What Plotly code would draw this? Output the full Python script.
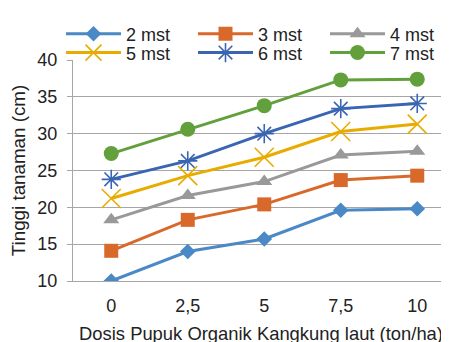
import plotly.graph_objects as go

categories = ["0", "2,5", "5", "7,5", "10"]
s2 = [10.0, 14.0, 15.7, 19.6, 19.8]
s3 = [14.1, 18.3, 20.4, 23.7, 24.3]
s4 = [18.3, 21.6, 23.5, 27.1, 27.6]
s5 = [21.2, 24.3, 26.8, 30.3, 31.3]
s6 = [23.8, 26.3, 30.0, 33.4, 34.1]
s7 = [27.3, 30.6, 33.8, 37.3, 37.4]
names = ["2 mst", "3 mst", "4 mst", "5 mst", "6 mst", "7 mst"]
y_ticks = [10, 15, 20, 25, 30, 35, 40]

series = [s2, s3, s4, s5, s6, s7]
colors = ["#4A89C5", "#D9692B", "#999999", "#E8AC00", "#3A65B2", "#62A03C"]
symbols = ["diamond", "square", "triangle-up", "x-thin-open", "asterisk-open", "circle"]
sizes = [12, 14, 14, 19, 16, 15]
legend_ids = ["legend", "legend", "legend", "legend2", "legend2", "legend2"]

fig = go.Figure()
for name, vals, c, sym, sz, lg in zip(names, series, colors, symbols, sizes, legend_ids):
    open_sym = sym.endswith("open")
    fig.add_trace(go.Scatter(
        x=list(range(len(categories))), y=vals, name=name, mode="lines+markers",
        legend=lg,
        line=dict(color=c, width=3),
        marker=dict(symbol=sym, size=sz, color=c,
                    line=dict(color=c, width=1.6 if open_sym else 0)),
    ))

leg_common = dict(orientation="h", x=-0.0266, xanchor="left", yanchor="top",
                  entrywidth=62, itemwidth=55, font=dict(size=18),
                  tracegroupgap=0, bgcolor="rgba(0,0,0,0)")

fig.update_layout(
    width=449, height=342,
    margin=dict(l=65, r=8, t=47, b=69),
    paper_bgcolor="white", plot_bgcolor="white",
    font=dict(family="Arial", size=18, color="#222222"),
    showlegend=True,
    legend=dict(y=1.2013, **leg_common),
    legend2=dict(y=1.116, **leg_common),
    xaxis=dict(range=[-0.5, 4.415], tickvals=list(range(len(categories))),
               ticktext=categories, showgrid=False, showline=True,
               linecolor="#A6A6A6", linewidth=1, ticks="", zeroline=False,
               ticklabelstandoff=8, tickfont=dict(size=18),
               title=dict(text="Dosis Pupuk Organik Kangkung laut (ton/ha)", standoff=12,
                          font=dict(size=18.4))),
    yaxis=dict(range=[10, 40], tickvals=y_ticks, showgrid=True, gridcolor="#A6A6A6",
               gridwidth=1, showline=True, linecolor="#A6A6A6", linewidth=1,
               ticks="outside", ticklen=5, tickcolor="#A6A6A6", zeroline=False,
               ticklabelstandoff=6, tickfont=dict(size=18),
               title=dict(text="Tinggi tanaman (cm)", standoff=8, font=dict(size=18.8))),
)

fig.write_html("out.html")
